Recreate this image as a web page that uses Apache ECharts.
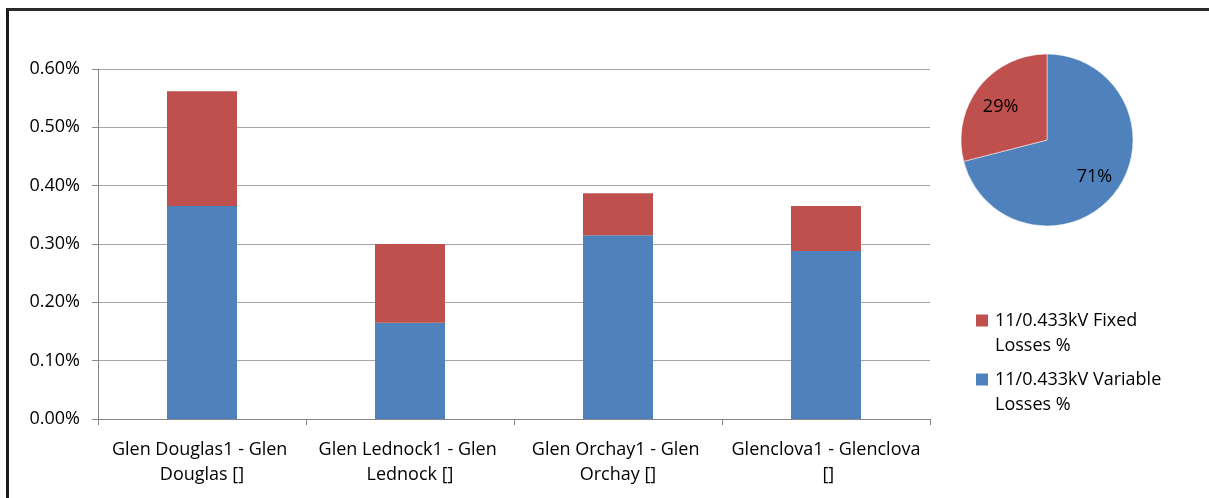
<!DOCTYPE html>
<html>
<head>
<meta charset="utf-8">
<script src="https://cdn.jsdelivr.net/npm/echarts@6/dist/echarts.min.js"></script>
<style>
  html, body { margin: 0; padding: 0; background: #fff; }
  #frame { position: absolute; left: 6px; top: 8px; right: 0; bottom: 0;
           border-left: 3px solid #1a1a1a; border-top: 3px solid #2a2a2a; }
  #chart { position: absolute; left: 0; top: 0; width: 1209px; height: 498px; }
</style>
</head>
<body>
<div id="frame"></div>
<div id="chart"></div>
<script>
// Substations (x axis)
const categories = [
  'Glen Douglas1 - Glen Douglas []',
  'Glen Lednock1 - Glen Lednock []',
  'Glen Orchay1 - Glen Orchay []',
  'Glenclova1 - Glenclova []'
];
// Losses in percent
const variableLosses = [0.365, 0.165, 0.315, 0.288];
const fixedLosses    = [0.197, 0.135, 0.072, 0.077];
// Share of total losses (pie)
const pieShares = [71, 29];
const yTicks = { min: 0, max: 0.6, step: 0.1 };

const fixedName = '11/0.433kV Fixed Losses %';
const variableName = '11/0.433kV Variable Losses %';
const RED = '#C0504D', BLUE = '#4F81BD';
const FONT = 'Open Sans';
const FS = 18;

const chart = echarts.init(document.getElementById('chart'), null, { renderer: 'canvas' });

const legendText = { fontFamily: FONT, fontSize: FS, color: '#000', lineHeight: 25,
                     padding: [0, 0, 0, 2] };
// a blank leading line keeps the legend square level with the first text line
const wrapName = n => ' \n' + n.replace(' Losses', '\nLosses');

chart.setOption({
  animation: false,
  textStyle: { fontFamily: FONT },
  grid: { left: 98, top: 69, right: 279, bottom: 79, containLabel: false },
  legend: [
    { data: [fixedName], left: 971, top: 278, orient: 'vertical', icon: 'rect',
      itemWidth: 12, itemHeight: 12, itemGap: 0, textStyle: legendText, formatter: wrapName },
    { data: [variableName], left: 971, top: 337, orient: 'vertical', icon: 'rect',
      itemWidth: 12, itemHeight: 12, itemGap: 0, textStyle: legendText, formatter: wrapName }
  ],
  xAxis: {
    type: 'category',
    data: categories,
    axisLine: { lineStyle: { color: '#868686', width: 1 } },
    axisTick: { show: true, length: 6, alignWithLabel: false, lineStyle: { color: '#868686' } },
    axisLabel: {
      interval: 0, color: '#000', fontSize: FS, fontFamily: FONT, lineHeight: 25,
      margin: 18, width: 192, overflow: 'break'
    }
  },
  yAxis: {
    type: 'value',
    min: yTicks.min, max: yTicks.max, interval: yTicks.step,
    axisLine: { show: true, lineStyle: { color: '#868686', width: 1 } },
    axisTick: { show: true, length: 6, lineStyle: { color: '#868686' } },
    axisLabel: { color: '#000', fontSize: FS, fontFamily: FONT, margin: 18,
                 formatter: v => v.toFixed(2) + '%' },
    splitLine: { lineStyle: { color: '#A6A6A6', width: 1 } }
  },
  series: [
    { name: variableName, type: 'bar', stack: 'loss', data: variableLosses,
      barWidth: 70, itemStyle: { color: BLUE } },
    { name: fixedName, type: 'bar', stack: 'loss', data: fixedLosses,
      barWidth: 70, itemStyle: { color: RED } },
    { type: 'pie', center: [1047, 140], radius: 86, startAngle: 90, silent: true,
      label: { show: false }, labelLine: { show: false },
      itemStyle: { borderColor: '#fff', borderWidth: 0.5 },
      data: [
        { name: variableName, value: pieShares[0], itemStyle: { color: BLUE } },
        { name: fixedName, value: pieShares[1], itemStyle: { color: RED } }
      ] },
    // label ring: places the percentages part-way out from the centre
    { type: 'pie', center: [1047, 140], radius: [28, 86], startAngle: 90, silent: true,
      legendHoverLink: false,
      itemStyle: { color: 'rgba(0,0,0,0)' },
      label: { show: true, position: 'inside', color: '#000', fontSize: FS, fontFamily: FONT,
               formatter: p => p.value + '%' },
      labelLine: { show: false },
      data: [
        { name: 'v', value: pieShares[0] },
        { name: 'f', value: pieShares[1], label: { offset: [1, 4] } }
      ] }
  ]
});
</script>
</body>
</html>
